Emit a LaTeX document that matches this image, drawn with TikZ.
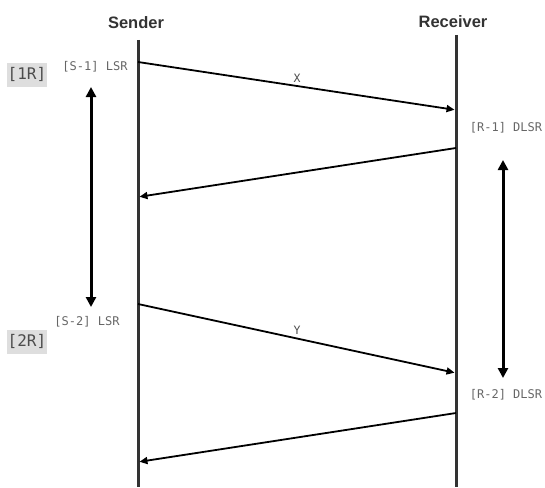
\documentclass[tikz,border=0pt]{standalone}
\usepackage{fontspec}
\setmainfont{Liberation Sans}
\setmonofont{DejaVu Sans Mono}
\usetikzlibrary{arrows.meta, positioning}

\begin{document}
\begin{tikzpicture}[x=1pt, y=-1pt,
    life/.style={black!80, line width=3pt},
    msg/.style={line width=1.8pt, -{Triangle[length=8pt, width=7pt]}, shorten >=1.5pt},
    gap/.style={line width=3pt, {Triangle[length=10pt, width=10pt]}-{Triangle[length=10pt, width=10pt]}},
    role/.style={font=\fontsize{16.5}{16.5}\selectfont\bfseries, text=black!80},
    tag/.style={font=\ttfamily\fontsize{12}{12}\selectfont, text=black!60, inner sep=0pt},
    rnd/.style={font=\ttfamily\fontsize{16}{16}\selectfont, text=black!70, fill=black!13, inner sep=1pt, minimum height=24pt},
    lbl/.style={font=\ttfamily\fontsize{11.5}{11.5}\selectfont, text=black!70, inner sep=1pt}]
    \useasboundingbox (0,0) rectangle (545,487);
    % lifelines
    \node[role] (snd) at (136,23) {Sender};
    \node[role] (rcv) at (453,22) {Receiver};
    \coordinate (sT) at (138,40);
    \coordinate (sB) at (138,487);
    \coordinate (rT) at (456,35);
    \coordinate (rB) at (456,487);
    \draw[life] (sT) -- (sB);
    \draw[life] (rT) -- (rB);
    % message ends
    \coordinate (s1) at (138,62);
    \coordinate (r1) at (456,110);
    \coordinate (r1b) at (456,148);
    \coordinate (s1b) at (138,197);
    \coordinate (s2) at (138,304);
    \coordinate (r2) at (456,373);
    \coordinate (r2b) at (456,413);
    \coordinate (s2b) at (138,462);
    \draw[msg] (s1) -- node[lbl, midway, above=2pt] (lx) {X} (r1);
    \draw[msg] (s2) -- node[lbl, midway, above=2pt] (ly) {Y} (r2);
    \foreach \i/\j in {r1b/s1b, r2b/s2b} {
        \draw[msg] (\i) -- (\j);
    }
    % reports
    \node[tag] (sr1) at (95,67) {[S-1] LSR};
    \node[tag] (sr2) at (87,322) {[S-2] LSR};
    \node[tag] (rr1) at (506,128) {[R-1] DLSR};
    \node[tag] (rr2) at (506,395) {[R-2] DLSR};
    \node[rnd] (rd1) at (27,74.5) {[1R]};
    \node[rnd] (rd2) at (27,341.5) {[2R]};
    % intervals
    \coordinate (gL1) at (91,87);
    \coordinate (gL2) at (91,307);
    \coordinate (gR1) at (503,160);
    \coordinate (gR2) at (503,378);
    \draw[gap] (gL1) -- (gL2);
    \draw[gap] (gR1) -- (gR2);
\end{tikzpicture}
\end{document}
